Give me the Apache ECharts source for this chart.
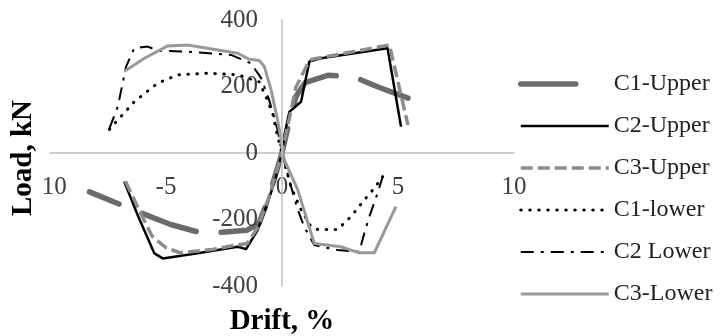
<!DOCTYPE html>
<html>
<head>
<meta charset="utf-8">
<script src="https://cdn.jsdelivr.net/npm/echarts@6/dist/echarts.min.js"></script>
<style>
html,body{margin:0;padding:0;background:#fff;}
#chart{width:721px;height:336px;}
</style>
</head>
<body>
<div id="chart"></div>
<script>
// Drift (%) , Load (kN) pairs
const seriesNames = ['C1-Upper', 'C2-Upper', 'C3-Upper', 'C1-lower', 'C2 Lower', 'C3-Lower'];
const xTicks = [-10, -5, 0, 5, 10];
const yTicks = [-400, -200, 0, 200, 400];

const c1Upper = [[-8.3,-117],[-6.2,-177],[-4.8,-215],[-3.6,-238],[-2.6,-238],[-1.5,-232],[-1.0,-212],[-0.65,-150],[-0.3,-70],[0,0],[0.3,90],[0.6,170],[1.0,212],[2.0,234],[3.1,229],[4.2,197],[5.43,165]];
const c2Upper = [[-6.8,-86],[-6.2,-190],[-5.5,-302],[-5.14,-317],[-3.5,-300],[-1.91,-282],[-1.55,-289],[-1.05,-232],[-0.62,-151],[-0.26,-71],[0,0],[0.12,60],[0.32,124],[0.82,154],[1.18,275],[1.68,285],[4.55,315],[5.13,79]];
const c3Upper = [[-6.75,-85],[-6.1,-180],[-5.6,-250],[-5.0,-285],[-4.4,-300],[-3.0,-290],[-1.9,-276],[-1.5,-272],[-1.05,-225],[-0.6,-140],[-0.25,-60],[0,0],[0.2,70],[0.4,130],[0.6,198],[1.12,270],[1.3,282],[3.1,305],[4.63,325],[5.43,84]];
const c1Lower = [[-7.44,71],[-6.37,154],[-5.36,210],[-4.5,235],[-3.2,240],[-1.91,235],[-0.98,214],[-0.69,169],[-0.4,119],[-0.19,49],[0,0],[0.1,-30],[0.39,-102],[0.82,-171],[1.25,-222],[1.54,-230],[2.4,-230],[2.97,-191],[3.55,-141],[3.98,-106],[4.34,-71]];
const c2Lower = [[-7.44,74],[-7.08,139],[-6.72,260],[-6.37,315],[-5.79,320],[-5.36,308],[-4.07,305],[-2.2,295],[-1.34,270],[-0.9,225],[-0.55,159],[-0.19,69],[0,0],[0.39,-101],[0.68,-171],[0.96,-222],[1.39,-277],[2.4,-292],[3.33,-297],[3.55,-241],[3.76,-192],[4.12,-121],[4.34,-71]];
const c3Lower = [[-6.8,245],[-5.93,285],[-4.93,322],[-4.07,325],[-1.91,300],[-1.41,282],[-0.98,278],[-0.76,260],[-0.47,190],[-0.19,99],[-0.04,39],[0.1,-21],[0.68,-111],[1.39,-272],[2.54,-282],[2.97,-292],[3.33,-300],[3.98,-300],[4.91,-161]];

const seriesData = [c1Upper, c2Upper, c3Upper, c1Lower, c2Lower, c3Lower];
const styles = [
  {color:'#6b6b6b', width:5.5, type:[57,25], offset:25, legendType:[55,40], cap:'round'},
  {color:'#000000', width:2.5, type:'solid', offset:0, cap:'butt'},
  {color:'#8c8c8c', width:3.5, type:[12,5], offset:0, cap:'butt'},
  {color:'#000000', width:3, type:[0.5,8.5], offset:0, cap:'round'},
  {color:'#000000', width:2, type:[13,7,3,7], offset:0, cap:'butt'},
  {color:'#999999', width:3, type:'solid', offset:0, cap:'butt'}
];

// layout: plot box
const G = {left: 50, right: 207, top: 20, bottom: 50};
const W = 721, H = 336;
const plotW = W - G.left - G.right, plotH = H - G.top - G.bottom;
// shift axes from grid edge to the zero lines
const yAxisShift = -plotW * (0 - xTicks[0]) / (xTicks[xTicks.length-1] - xTicks[0]);
const xAxisShift = -plotH * (0 - yTicks[0]) / (yTicks[yTicks.length-1] - yTicks[0]);

const chart = echarts.init(document.getElementById('chart'));
const font = 'Liberation Serif';
chart.setOption({
  animation: false,
  backgroundColor: '#fff',
  grid: {left: G.left, right: G.right, top: G.top, bottom: G.bottom, containLabel: false, outerBoundsMode: 'none'},
  xAxis: {
    type: 'value', min: xTicks[0], max: xTicks[xTicks.length-1], interval: 5,
    position: 'bottom', offset: xAxisShift, z: 1,
    axisLine: {onZero: false, lineStyle: {color: '#bfbfbf', width: 1.5}},
    axisTick: {show: false}, splitLine: {show: false},
    axisLabel: {margin: 22, fontFamily: font, fontSize: 25, color: '#404040', showMinLabel: true, showMaxLabel: true},
    name: 'Drift, %', nameLocation: 'middle', nameGap: 154,
    nameTextStyle: {fontFamily: font, fontSize: 29, fontWeight: 'bold', color: '#000'}
  },
  yAxis: {
    type: 'value', min: yTicks[0], max: yTicks[yTicks.length-1], interval: 200,
    position: 'left', offset: yAxisShift, z: 4,
    axisLine: {onZero: false, lineStyle: {color: '#bfbfbf', width: 1.5}},
    axisTick: {show: false}, splitLine: {show: false},
    axisLabel: {margin: 24, fontFamily: font, fontSize: 25, color: '#404040'},
    name: 'Load, kN', nameLocation: 'middle', nameGap: 238, nameRotate: 90,
    nameTextStyle: {fontFamily: font, fontSize: 29, fontWeight: 'bold', color: '#000', backgroundColor: '#fff', padding: [2, 12, 6, 2]}
  },
  legend: {
    orient: 'vertical', left: 513, top: 67, padding: 5, itemWidth: 88, itemHeight: 14, itemGap: 18,
    textStyle: {fontFamily: font, fontSize: 24, color: '#222'},
    itemStyle: {opacity: 0},
    data: seriesNames.map((n, i) => ({name: n, itemStyle: {opacity: 0}, lineStyle: {width: styles[i].width, type: styles[i].legendType || styles[i].type, dashOffset: 0, cap: styles[i].cap, color: styles[i].color, opacity: 1}}))
  },
  series: seriesNames.map((n, i) => ({
    name: n, type: 'line', data: seriesData[i], symbol: 'none', smooth: false,
    lineStyle: {color: styles[i].color, width: styles[i].width, type: styles[i].type, dashOffset: styles[i].offset, cap: styles[i].cap, join: 'round'},
    itemStyle: {color: styles[i].color}
  }))
});
</script>
</body>
</html>
